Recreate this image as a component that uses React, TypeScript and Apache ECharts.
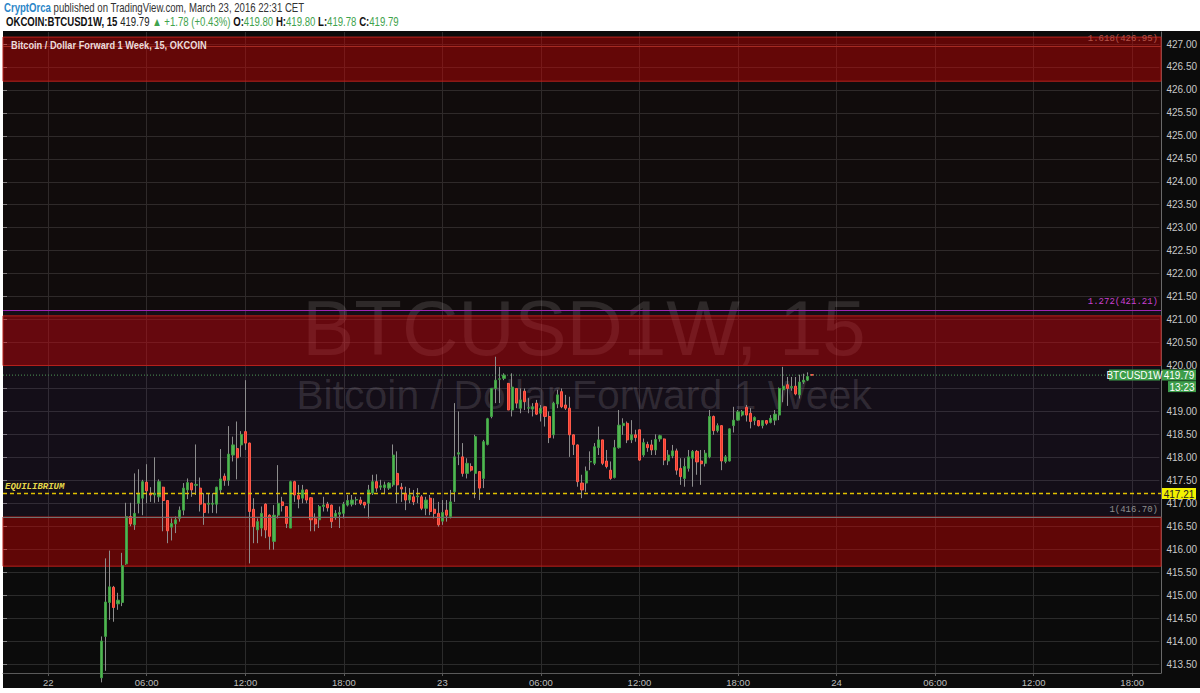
import React, { useEffect, useRef } from "react";
import * as echarts from "echarts";

// ---------- data ----------
const categoryCount = 283; // 15-minute slots from 21 Mar 21:15
const firstCandleIndex = 24; // 22 Mar 03:15

const opens = [
  413.2, 414.1, 414.84, 415.17, 414.81, 414.84, 415.68, 416.71, 416.53, 417.0,
  417.11, 417.46, 417.22, 417.18, 417.14, 417.35, 417.06, 416.48, 416.55, 416.67,
  416.85, 417.29, 417.44, 417.39, 417.33, 416.99, 416.98, 416.98, 416.98, 417.29,
  417.59, 417.5, 418.05, 418.19, 418.27, 418.56, 418.31, 416.87, 416.42, 416.46,
  416.98, 416.74, 416.17, 416.74, 417.03, 416.93, 416.46, 417.47, 417.17, 417.11,
  417.29, 417.12, 416.66, 416.64, 416.93, 416.98, 416.96, 416.71, 416.76, 416.78,
  416.96, 416.98, 417.07, 417.07, 417.02, 417.0, 417.22, 417.47, 417.35, 417.34,
  417.33, 417.4, 417.65, 417.35, 417.22, 417.07, 417.14, 417.14, 417.14, 416.89,
  417.11, 416.87, 416.78, 416.61, 416.85, 416.71, 417.25, 418.07, 418.01, 417.65,
  417.8, 417.65, 417.69, 417.54, 418.28, 418.89, 419.5, 419.7, 419.72, 419.61,
  419.03, 419.5, 419.07, 419.44, 419.07, 419.05, 419.18, 418.96, 419.1, 418.89,
  418.49, 419.16, 419.43, 419.14, 419.07, 418.49, 418.27, 417.44, 417.44, 417.9,
  417.87, 418.21, 418.38, 417.92, 417.72, 417.56, 418.21, 418.69, 418.74, 418.38,
  418.49, 418.6, 418.05, 418.28, 418.27, 418.16, 418.4, 418.4, 417.92, 418.03,
  418.14, 417.76, 417.54, 417.76, 417.98, 418.13, 417.92, 417.87, 418.01, 418.89,
  418.58, 418.69, 417.91, 417.92, 418.69, 418.81, 418.92, 419.09, 418.96, 418.8,
  418.8, 418.69, 418.8, 418.76, 418.81, 418.92, 419.47, 419.58, 419.52, 419.55,
  419.36, 419.64, 419.68, 419.8,
];
const closes = [
  414.0, 414.85, 415.18, 414.73, 414.89, 415.64, 416.71, 416.55, 416.78, 417.22,
  417.47, 417.27, 417.18, 417.22, 417.47, 417.06, 416.4, 416.56, 416.64, 416.85,
  417.33, 417.45, 417.29, 417.41, 416.98, 416.8, 417.0, 417.0, 417.35, 417.53,
  417.5, 418.07, 418.27, 417.99, 418.5, 418.31, 416.82, 416.49, 416.6, 416.78,
  416.42, 416.28, 416.74, 417.0, 416.95, 416.56, 417.47, 417.18, 417.09, 417.29,
  417.07, 416.64, 416.55, 416.93, 416.96, 416.9, 416.6, 416.78, 416.8, 416.98,
  417.06, 417.07, 417.08, 417.0, 416.96, 417.29, 417.47, 417.33, 417.38, 417.4,
  417.44, 418.05, 417.4, 417.31, 417.07, 417.18, 417.03, 417.16, 416.89, 417.07,
  416.82, 416.78, 416.53, 416.8, 416.74, 417.03, 418.01, 418.1, 417.65, 417.87,
  417.72, 418.45, 417.33, 418.34, 418.84, 419.5, 419.68, 419.71, 419.79, 419.03,
  419.53, 419.18, 419.25, 419.21, 419.08, 419.1, 418.94, 419.07, 418.89, 418.43,
  419.18, 419.36, 419.1, 419.07, 418.49, 418.28, 417.47, 417.29, 417.7, 417.91,
  418.23, 418.38, 417.87, 417.8, 417.54, 418.21, 418.7, 418.74, 418.38, 418.49,
  418.43, 417.94, 418.32, 418.21, 418.16, 418.39, 418.47, 417.94, 418.05, 418.14,
  417.72, 417.58, 417.8, 418.01, 418.13, 417.9, 417.86, 418.09, 418.89, 418.58,
  418.69, 417.92, 418.01, 418.62, 418.81, 418.99, 419.0, 418.92, 418.78, 418.87,
  418.69, 418.8, 418.74, 418.85, 418.94, 419.5, 419.55, 419.5, 419.54, 419.38,
  419.64, 419.68, 419.76, 419.79,
];
const lows = [
  413.1, 413.35, 414.46, 414.42, 414.68, 414.76, 415.66, 416.5, 416.42, 416.78,
  416.74, 417.0, 417.03, 417.01, 417.03, 416.39, 416.13, 416.19, 416.35, 416.6,
  416.74, 417.09, 417.14, 417.18, 416.82, 416.53, 416.78, 416.79, 416.78, 417.22,
  417.38, 417.38, 417.91, 417.52, 418.01, 418.16, 415.69, 416.13, 416.13, 416.28,
  416.24, 415.99, 415.99, 416.67, 416.82, 416.46, 416.46, 417.03, 416.89, 417.0,
  417.0, 416.39, 416.39, 416.46, 416.82, 416.82, 416.46, 416.64, 416.46, 416.67,
  416.93, 416.93, 416.96, 416.96, 416.89, 416.67, 417.18, 417.25, 417.29, 417.22,
  417.29, 417.36, 417.0, 417.03, 416.85, 417.0, 416.96, 417.0, 416.85, 416.74,
  416.74, 416.67, 416.49, 416.53, 416.6, 416.67, 417.03, 417.83, 417.58, 417.54,
  417.69, 417.11, 417.07, 417.33, 418.26, 418.85, 419.18, 419.18, 419.68, 419.03,
  418.89, 419.07, 418.96, 419.03, 418.96, 418.89, 418.92, 418.78, 418.67, 418.31,
  418.41, 419.07, 419.07, 419.03, 418.01, 418.05, 417.36, 417.11, 417.25, 417.72,
  417.83, 418.05, 417.83, 417.76, 417.51, 417.54, 418.19, 418.49, 418.31, 418.31,
  418.34, 417.92, 418.01, 418.12, 418.05, 418.05, 418.34, 417.83, 417.83, 417.98,
  417.62, 417.4, 417.36, 417.69, 417.36, 417.62, 417.4, 417.8, 417.98, 418.49,
  418.54, 417.72, 417.87, 417.91, 418.54, 418.8, 418.89, 418.78, 418.63, 418.7,
  418.67, 418.63, 418.7, 418.74, 418.7, 418.81, 419.2, 419.12, 419.45, 419.35,
  419.28, 419.6, 419.66, 419.78,
];
const highs = [
  414.1, 415.8, 415.97, 415.2, 415.05, 415.92, 417.01, 417.01, 417.65, 417.74,
  417.51, 417.85, 417.35, 418.0, 417.52, 417.36, 417.06, 416.67, 416.71, 416.93,
  417.44, 417.54, 417.45, 418.28, 417.56, 417.22, 417.22, 417.22, 417.36, 418.18,
  417.65, 418.68, 418.45, 418.78, 418.57, 419.68, 418.32, 417.11, 416.67, 416.93,
  417.0, 416.76, 416.96, 417.83, 417.14, 416.93, 417.49, 417.49, 417.4, 417.4,
  417.3, 417.13, 416.78, 416.96, 417.14, 417.03, 416.97, 416.85, 416.93, 417.03,
  417.18, 417.18, 417.14, 417.14, 417.03, 417.4, 417.62, 417.63, 417.51, 417.47,
  417.46, 418.28, 418.13, 417.44, 417.36, 417.33, 417.29, 417.33, 417.18, 417.14,
  417.18, 417.11, 417.03, 417.07, 417.07, 417.29, 419.18, 419.0, 418.31, 417.98,
  417.87, 418.49, 417.7, 418.38, 418.86, 419.5, 420.19, 419.97, 419.83, 419.62,
  419.83, 419.5, 419.5, 419.5, 419.29, 419.18, 419.25, 419.14, 419.1, 419.0,
  419.21, 419.47, 419.5, 419.36, 419.32, 418.5, 418.28, 417.62, 417.8, 418.13,
  418.31, 418.67, 418.38, 418.16, 417.91, 418.38, 419.03, 418.85, 418.78, 418.81,
  418.6, 418.6, 418.41, 418.34, 418.38, 418.5, 418.49, 418.41, 418.16, 418.27,
  418.19, 417.98, 417.98, 418.16, 418.16, 418.16, 418.16, 418.16, 419.03, 418.91,
  418.74, 418.7, 418.05, 418.63, 419.1, 419.03, 419.03, 419.14, 419.07, 418.89,
  418.81, 418.81, 418.81, 418.92, 419.03, 419.52, 419.97, 419.75, 419.75, 419.75,
  419.8, 419.82, 419.85, 419.8,
];

const yTickMin = 413.5;
const yTickMax = 427;
const yTickStep = 0.5;
const viewMin = 413.304;
const viewMax = 427.261;

const equilibrium = 417.21;
const fibLevels = [
  { value: 426.95, label: "1.618(426.95)" },
  { value: 421.21, label: "1.272(421.21)" },
  { value: 416.7, label: "1(416.70)" },
];
const boxes = [
  [426.19, 427.15],
  [420.0, 421.08],
  [415.63, 416.7],
];
const lastPrice = closes[closes.length - 1];
const countdown = "13:23";
const hiddenTickLabels = [419.5]; // covered by the countdown tag in the reference

// ---------- helpers ----------
function buildCategories(): string[] {
  const out: string[] = [];
  const base = Date.UTC(2016, 2, 21, 21, 15);
  for (let i = 0; i < categoryCount; i++) {
    const d = new Date(base + i * 15 * 60000);
    const hh = String(d.getUTCHours()).padStart(2, "0");
    const mm = String(d.getUTCMinutes()).padStart(2, "0");
    out.push(`${d.getUTCDate()} ${hh}:${mm}`);
  }
  return out;
}
const categories = buildCategories();
const isMajor = (i: number) => {
  const hm = categories[i].split(" ")[1];
  const [h, m] = hm.split(":");
  return m === "00" && Number(h) % 6 === 0;
};

const candleData = opens.map((o, i) => [firstCandleIndex + i, o, closes[i], lows[i], highs[i]]);
const bodyData = opens.map((o, i) => [
  firstCandleIndex + i,
  o,
  closes[i],
  Math.min(o, closes[i]),
  Math.max(o, closes[i]),
]);
const levelLine = (v: number) => categories.map(() => v);

const SANS = "'Liberation Sans', Arial, sans-serif";
const MONO = "'Liberation Mono', 'DejaVu Sans Mono', monospace";

export default function App() {
  const ref = useRef<HTMLDivElement>(null);
  useEffect(() => {
    const el = ref.current as HTMLDivElement;
    const chart = echarts.init(el, null, { renderer: "svg", width: 1200, height: 693 });
    const grid = { left: 3, right: 39 };
    const option: any = {
      animation: false,
      backgroundColor: "transparent",
      grid: [
        { ...grid, top: 32, bottom: 20 },
        { ...grid, top: 44, bottom: 29 },
      ],
      xAxis: [
        {
          type: "category",
          gridIndex: 0,
          data: categories,
          boundaryGap: false,
          axisLine: { show: true, lineStyle: { color: "#5a5a5a" } },
          axisTick: { show: true, interval: (i: number) => isMajor(i), length: 3, lineStyle: { color: "#5a5a5a" } },
          axisLabel: {
            interval: (i: number) => isMajor(i),
            formatter: (v: string) => {
              const [d, hm] = v.split(" ");
              return hm === "00:00" ? d : hm;
            },
            color: "#bdbdbd",
            fontSize: 9.5,
            fontFamily: SANS,
            margin: 4,
          },
          splitLine: { show: true, interval: (i: number) => isMajor(i), lineStyle: { color: "#2b2b2b", width: 1 } },
        },
        { type: "value", gridIndex: 1, show: false, min: 0, max: 1 },
      ],
      yAxis: [
        {
          type: "value",
          gridIndex: 0,
          position: "right",
          min: viewMin,
          max: viewMax,
          axisLine: { show: true, lineStyle: { color: "#6a6a6a" } },
          axisTick: { show: false },
          axisLabel: { show: false },
          splitLine: { show: false },
        },
        {
          type: "value",
          gridIndex: 1,
          position: "right",
          min: yTickMin,
          max: yTickMax,
          interval: yTickStep,
          axisLine: { show: false },
          axisTick: { show: true, length: 4, lineStyle: { color: "#8a8a8a" } },
          axisLabel: {
            color: "#c8c8c8",
            fontSize: 10,
            fontFamily: SANS,
            margin: 7,
            formatter: (v: number) => (hiddenTickLabels.some((h) => Math.abs(h - v) < 1e-6) ? "" : v.toFixed(2)),
          },
          splitLine: { show: true, lineStyle: { color: "#2b2b2b", width: 1 } },
        },
      ],
      series: [
        {
          name: "zones",
          type: "line",
          xAxisIndex: 0,
          yAxisIndex: 0,
          data: [],
          z: 1,
          silent: true,
          markArea: {
            silent: true,
            data: [
              [{ yAxis: fibLevels[2].value, itemStyle: { color: "rgba(110,40,150,0.09)" } }, { yAxis: fibLevels[1].value }],
              [{ yAxis: fibLevels[1].value, itemStyle: { color: "rgba(120,30,30,0.06)" } }, { yAxis: fibLevels[0].value }],
            ],
          },
        },
        {
          name: "wicks",
          type: "candlestick",
          xAxisIndex: 0,
          yAxisIndex: 0,
          data: candleData,
          encode: { x: 0, y: [1, 2, 3, 4] },
          barWidth: 1,
          z: 2,
          silent: true,
          itemStyle: {
            color: "#8d8d8d",
            color0: "#8d8d8d",
            borderColor: "#8d8d8d",
            borderColor0: "#8d8d8d",
            borderWidth: 1,
          },
        },
        {
          name: "bodies",
          type: "candlestick",
          xAxisIndex: 0,
          yAxisIndex: 0,
          data: bodyData,
          encode: { x: 0, y: [1, 2, 3, 4] },
          barWidth: 2.6,
          z: 3,
          silent: true,
          itemStyle: {
            color: "#52b552",
            color0: "#f03a2e",
            borderColor: "#3f9c43",
            borderColor0: "#ff5a4a",
            borderWidth: 1,
          },
        },
        {
          name: "boxes",
          type: "line",
          xAxisIndex: 0,
          yAxisIndex: 0,
          data: [],
          z: 4,
          silent: true,
          markArea: {
            silent: true,
            itemStyle: { color: "rgba(225,0,0,0.4)", borderColor: "#b8201c", borderWidth: 1 },
            data: boxes.map(([a, b]) => [{ yAxis: a }, { yAxis: b }]),
          },
        },
        {
          name: "fibs",
          type: "line",
          xAxisIndex: 0,
          yAxisIndex: 0,
          data: [],
          z: 6,
          silent: true,
          markLine: {
            silent: true,
            symbol: ["none", "none"],
            animation: false,
            data: [
              {
                yAxis: fibLevels[0].value,
                lineStyle: { color: "#a52a22", type: "solid", width: 1 },
                label: { show: true, position: "insideEndTop", formatter: fibLevels[0].label, color: "#b4544a", fontFamily: MONO, fontSize: 9, distance: 3 },
              },
              {
                yAxis: fibLevels[1].value,
                lineStyle: { color: "#a024b4", type: "solid", width: 1 },
                label: { show: true, position: "insideEndTop", formatter: fibLevels[1].label, color: "#c840d0", fontFamily: MONO, fontSize: 9, distance: 3 },
              },
              {
                yAxis: fibLevels[2].value,
                lineStyle: { color: "#707070", type: "solid", width: 1 },
                label: { show: true, position: "insideEndTop", formatter: fibLevels[2].label, color: "#8e8e8e", fontFamily: MONO, fontSize: 9, distance: 3 },
              },
              {
                yAxis: equilibrium,
                lineStyle: { color: "rgba(0,0,0,0)", width: 0 },
                label: { show: true, position: "insideStartTop", formatter: "EQUILIBRIUM", color: "#e6d84a", fontFamily: MONO, fontStyle: "italic", fontWeight: "bold", fontSize: 9, distance: 2 },
              },
            ],
          },
        },
        {
          name: "equilibrium",
          type: "line",
          xAxisIndex: 0,
          yAxisIndex: 0,
          data: levelLine(equilibrium),
          z: 7,
          silent: true,
          showSymbol: false,
          symbol: "none",
          color: "#e0c000",
          lineStyle: { color: "#e0c000", type: [4, 3], width: 1.5 },
        },
        {
          name: "price",
          type: "line",
          xAxisIndex: 0,
          yAxisIndex: 0,
          data: levelLine(lastPrice),
          z: 7,
          silent: true,
          showSymbol: false,
          symbol: "none",
          color: "#4f9a58",
          lineStyle: { color: "#4f9a58", type: [1, 2], width: 1 },
        },
      ],
    };
    chart.setOption(option);

    const py = (v: number) => chart.convertToPixel({ yAxisIndex: 0 }, v) as number;
    const yP = py(lastPrice);
    const yE = py(equilibrium);
    const tagText = (x: number, y: number, w: number, h: number, bg: string, fg: string, text: string, size: number) => ({
      type: "group",
      z: 100,
      children: [
        { type: "rect", shape: { x, y, width: w, height: h }, style: { fill: bg }, z: 100 },
        {
          type: "text",
          x: x + w / 2,
          y: y + h / 2 + 0.5,
          z: 101,
          style: { text, fill: fg, font: `${size}px ${SANS}`, align: "center", verticalAlign: "middle" },
        },
      ],
    });

    chart.setOption({
      graphic: [
        {
          type: "text",
          x: 584,
          y: 328,
          z: 0,
          silent: true,
          style: { text: "BTCUSD1W, 15", fill: "rgba(255,255,255,0.13)", font: `78px ${SANS}`, align: "center", verticalAlign: "middle" },
        },
        {
          type: "text",
          x: 584,
          y: 395,
          z: 0,
          silent: true,
          style: { text: "Bitcoin / Dollar Forward 1 Week", fill: "rgba(255,255,255,0.13)", font: `41px ${SANS}`, align: "center", verticalAlign: "middle" },
        },
        {
          type: "text",
          x: 11,
          y: 45,
          z: 100,
          scaleX: 0.84,
          silent: true,
          style: { text: "Bitcoin / Dollar Forward 1 Week, 15, OKCOIN", fill: "#eadcdc", font: `bold 11px ${SANS}`, verticalAlign: "middle" },
        },
        {
          type: "text",
          x: 4,
          y: 8,
          z: 100,
          scaleX: 0.8,
          silent: true,
          style: {
            text: "{a|CryptOrca}{b| published on TradingView.com, March 23, 2016 22:31 CET}",
            verticalAlign: "middle",
            rich: {
              a: { fill: "#2a86c8", font: `bold 12px ${SANS}` },
              b: { fill: "#333333", font: `12px ${SANS}` },
            },
          },
        },
        {
          type: "text",
          x: 6,
          y: 22,
          z: 100,
          scaleX: 0.8,
          silent: true,
          style: {
            text: "{k|OKCOIN:BTCUSD1W, 15} {v|419.79} {g|▲ +1.78 (+0.43%)} {k|O:}{g|419.80} {k|H:}{g|419.80} {k|L:}{g|419.78} {k|C:}{g|419.79}",
            verticalAlign: "middle",
            rich: {
              k: { fill: "#111111", font: `bold 12px ${SANS}` },
              v: { fill: "#222222", font: `12px ${SANS}` },
              g: { fill: "#3fa34d", font: `12px ${SANS}` },
            },
          },
        },
        tagText(1109, yP - 5.5, 51, 11, "#3d9e4a", "#ffffff", "BTCUSD1W", 10),
        tagText(1162, yP - 5.5, 34, 11, "#3d9e4a", "#ffffff", lastPrice.toFixed(2), 10),
        tagText(1168, yP + 6, 28, 11, "#3d9e4a", "#ffffff", countdown, 10),
        tagText(1162, yE - 5.5, 34, 11, "#f2f200", "#222222", equilibrium.toFixed(2), 10),
      ],
    });
    return () => chart.dispose();
  }, []);

  return (
    <div style={{ position: "absolute", left: 0, top: 0, width: 1200, height: 693, background: "#ffffff", overflow: "hidden" }}>
      <div style={{ position: "absolute", left: 3, top: 31, width: 1197, height: 657, background: "#0b0b0b" }} />
      <div ref={ref} style={{ position: "absolute", left: 0, top: 0, width: 1200, height: 693 }} />
    </div>
  );
}
